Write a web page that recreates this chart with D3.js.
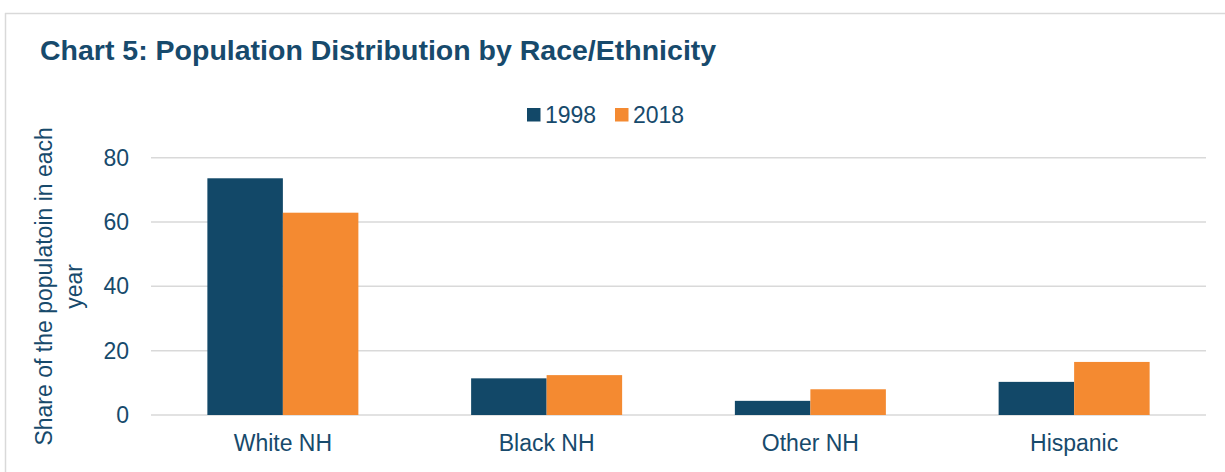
<!DOCTYPE html>
<html>
<head>
  <script src="https://cdn.jsdelivr.net/npm/d3@7"></script>
  <style>
    * { margin: 0; padding: 0; }
    body { background: white; }
    text { font-family: "Liberation Sans", Arial, sans-serif; fill: #174a6c; }
    .grid line { stroke: #d9d9d9; stroke-width: 1.5; }
  </style>
</head>
<body>
  <script>
    // data
    var categories = ["White NH", "Black NH", "Other NH", "Hispanic"];
    var years = ["1998", "2018"];
    var values1998 = [73.6, 11.4, 4.4, 10.3];
    var values2018 = [62.9, 12.4, 8.0, 16.5];
    var yTicks = [0, 20, 40, 60, 80];
    var colors = ["#124868", "#f48a31"];

    var w = 1225, h = 472;
    var plotLeft = 151, plotRight = 1206, plotTop = 157.7, plotBottom = 415;

    var svg = d3.select("body").append("svg")
      .attr("width", w)
      .attr("height", h);

    // light frame round the chart
    svg.append("line").attr("x1", 5.5).attr("x2", 5.5).attr("y1", 13).attr("y2", h)
      .attr("stroke", "#d9d9d9").attr("stroke-width", 1.5);
    svg.append("line").attr("x1", 5).attr("x2", w).attr("y1", 13.5).attr("y2", 13.5)
      .attr("stroke", "#d9d9d9").attr("stroke-width", 1.5);

    svg.append("text")
      .attr("x", 40).attr("y", 60)
      .style("font-size", "28.5px").style("font-weight", "bold")
      .text("Chart 5: Population Distribution by Race/Ethnicity");

    var yScale = d3.scaleLinear().domain([0, 80]).range([plotBottom, plotTop]);
    var xScale = d3.scaleBand().domain(categories).range([plotLeft, plotRight])
      .paddingInner(0.4275).paddingOuter(0.21375);
    var xSub = d3.scaleBand().domain(years).range([0, xScale.bandwidth()]);

    // gridlines
    svg.append("g").attr("class", "grid")
      .selectAll("line").data(yTicks).enter().append("line")
      .attr("x1", plotLeft).attr("x2", plotRight)
      .attr("y1", function(d) { return yScale(d); })
      .attr("y2", function(d) { return yScale(d); });

    // y axis labels
    var yAxis = svg.append("g")
      .attr("transform", "translate(" + plotLeft + ",0)")
      .call(d3.axisLeft(yScale).tickValues(yTicks).tickSize(0).tickPadding(22));
    yAxis.select(".domain").remove();
    yAxis.selectAll("text").style("font-size", "23px").attr("fill", null);
    yAxis.attr("font-family", null).attr("font-size", null);

    // x axis labels
    var xAxis = svg.append("g")
      .attr("transform", "translate(0," + plotBottom + ")")
      .call(d3.axisBottom(xScale).tickSize(0).tickPadding(20));
    xAxis.select(".domain").remove();
    xAxis.selectAll("text").style("font-size", "23px").attr("fill", null);
    xAxis.attr("font-family", null).attr("font-size", null);

    // bars
    var series = [values1998, values2018];
    var groups = svg.selectAll(".cat")
      .data(categories).enter().append("g")
      .attr("class", "cat")
      .attr("transform", function(d) { return "translate(" + xScale(d) + ",0)"; });
    groups.selectAll("rect")
      .data(function(d, i) { return years.map(function(y, j) { return {year: y, value: series[j][i], k: j}; }); })
      .enter().append("rect")
      .attr("x", function(d) { return xSub(d.year); })
      .attr("y", function(d) { return yScale(d.value); })
      .attr("width", xSub.bandwidth())
      .attr("height", function(d) { return yScale(0) - yScale(d.value); })
      .attr("fill", function(d) { return colors[d.k]; });

    // legend
    var legendX = [527, 615];
    var legend = svg.selectAll(".legend")
      .data(years).enter().append("g")
      .attr("class", "legend")
      .attr("transform", function(d, i) { return "translate(" + legendX[i] + ",108)"; });
    legend.append("rect").attr("width", 13.5).attr("height", 13.5)
      .attr("fill", function(d, i) { return colors[i]; });
    legend.append("text").attr("x", 18).attr("y", 15)
      .style("font-size", "23px").text(function(d) { return d; });

    // y axis title, two lines
    var yTitle = svg.append("text")
      .attr("transform", "translate(0," + ((plotTop + plotBottom) / 2) + ") rotate(-90)")
      .attr("text-anchor", "middle")
      .style("font-size", "23px");
    yTitle.append("tspan").attr("x", 0).attr("y", 52).text("Share of the populatoin in each");
    yTitle.append("tspan").attr("x", 0).attr("y", 82).text("year");
  </script>
</body>
</html>
